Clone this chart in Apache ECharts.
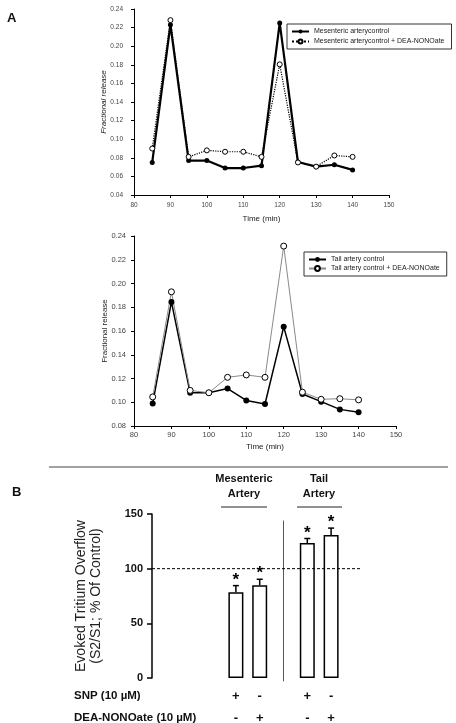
<!DOCTYPE html>
<html><head><meta charset="utf-8">
<script src="https://cdn.jsdelivr.net/npm/echarts@6/dist/echarts.min.js"></script>
<style>html,body{margin:0;padding:0;background:#fff}#c{width:456px;height:723px}</style>
</head><body><div id="c"></div>
<script>
// ---- data ----
const timePoints = [85, 90, 95, 100, 105, 110, 115, 120, 125, 130, 135, 140];
const mesControl = [0.075, 0.223, 0.077, 0.077, 0.069, 0.069, 0.0715, 0.225, 0.0755, 0.0705, 0.0725, 0.067];
const mesDea     = [0.090, 0.228, 0.081, 0.088, 0.0865, 0.0865, 0.081, 0.1805, 0.075, 0.0705, 0.0825, 0.081];
const tailControl = [0.099, 0.1845, 0.108, 0.108, 0.1115, 0.1015, 0.0985, 0.1635, 0.107, 0.1005, 0.094, 0.0915];
const tailDea     = [0.1045, 0.193, 0.110, 0.108, 0.121, 0.123, 0.121, 0.2315, 0.1085, 0.1025, 0.103, 0.102];
const mesNames = ['Mesenteric arterycontrol', 'Mesenteric arterycontrol + DEA-NONOate'];
const tailNames = ['Tail artery control', 'Tail artery control + DEA-NONOate'];

const barSlots = ['mesSNP', 'mesDEA', 'sep', 'tailSNP', 'tailDEA'];
const barMeans = [78.4, 84.8, null, 123.4, 130.7];
const barSem   = [6.1, 5.5, null, 4.2, 6.4];
const snpSigns = ['+', '-', '', '+', '-'];
const deaSigns = ['-', '+', '', '-', '+'];
const separatorSlot = 'sep';
const separatorRange = [-3, 144];
const controlLevel = 100;

const zip = (xs, ys) => xs.map((x, i) => [x, ys[i]]);
const FONT = 'Arial, "Liberation Sans", sans-serif';

function lineX(grid, labelSize, gap, margin) {
  return {
    type: 'value', gridIndex: grid, min: 80, max: 150, interval: 10,
    axisLine: { lineStyle: { color: '#000', width: 1 } },
    axisTick: { show: true, length: 3, lineStyle: { color: '#000' } },
    axisLabel: { fontSize: labelSize, color: '#444', margin: margin, fontFamily: FONT },
    splitLine: { show: false },
    name: 'Time (min)', nameLocation: 'middle', nameGap: gap, nameMoveOverlap: false,
    nameTextStyle: { fontSize: 8, color: '#222', fontFamily: FONT }
  };
}
function lineY(grid, min, labelSize, gap, margin, italic) {
  return {
    type: 'value', gridIndex: grid, min: min, max: 0.24, interval: 0.02,
    axisLine: { show: true, lineStyle: { color: '#000', width: 1 } },
    axisTick: { show: true, length: 3, lineStyle: { color: '#000' } },
    axisLabel: { fontSize: labelSize, color: '#444', margin: margin, fontFamily: FONT,
      formatter: v => v.toFixed(2) },
    splitLine: { show: false },
    name: 'Fractional release', nameLocation: 'middle', nameGap: gap, nameMoveOverlap: false,
    nameTextStyle: { fontSize: 8, color: '#222', fontFamily: FONT, fontStyle: italic ? 'italic' : 'normal' }
  };
}

const chart = echarts.init(document.getElementById('c'), null, { renderer: 'canvas' });
const option = {
  animation: false,
  backgroundColor: '#fff',
  title: [
    { text: 'A', left: 7, top: 12, padding: 0, textStyle: { fontSize: 13, fontWeight: 'bold', color: '#111', fontFamily: FONT } },
    { text: 'B', left: 12, top: 486, padding: 0, textStyle: { fontSize: 13, fontWeight: 'bold', color: '#111', fontFamily: FONT } }
  ],
  grid: [
    { left: 134, top: 9, width: 255, height: 186, outerBoundsMode: 'none' },
    { left: 134, top: 236, width: 262, height: 190, outerBoundsMode: 'none' },
    { left: 152, top: 514, width: 208, height: 164, outerBoundsMode: 'none' },
    { left: 224, top: 514, width: 119, height: 164, outerBoundsMode: 'none' }
  ],
  legend: [
    { data: mesNames, orient: 'vertical', left: 287, top: 24, itemWidth: 17, itemHeight: 5, itemGap: 3,
      padding: [4, 7, 4, 4], borderColor: '#333', borderWidth: 1,
      textStyle: { fontSize: 7, color: '#222', fontFamily: FONT } },
    { data: tailNames, orient: 'vertical', left: 304, top: 252, itemWidth: 17, itemHeight: 6, itemGap: 2,
      padding: [4, 7, 4, 4], borderColor: '#333', borderWidth: 1,
      textStyle: { fontSize: 7, color: '#222', fontFamily: FONT } }
  ],
  xAxis: [
    lineX(0, 6.5, 20, 7),
    lineX(1, 7.5, 17, 5),
    { type: 'value', gridIndex: 2, min: 0, max: 1, show: false },
    { type: 'category', gridIndex: 3, data: barSlots,
      axisLine: { show: false }, axisTick: { show: false },
      axisLabel: { interval: 0, margin: 7, fontSize: 13, fontWeight: 'bold', color: '#111', lineHeight: 22,
        fontFamily: FONT, formatter: (v, i) => snpSigns[i] + '\n' + deaSigns[i] } }
  ],
  yAxis: [
    lineY(0, 0.04, 6.5, 26, 11, true),
    lineY(1, 0.08, 7.5, 25, 8, false),
    { type: 'value', gridIndex: 2, min: 0, max: 150, interval: 50,
      axisLine: { show: true, lineStyle: { color: '#000', width: 1.5 } },
      axisTick: { show: true, length: 5, lineStyle: { color: '#000', width: 1.5 } },
      axisLabel: { fontSize: 11, fontWeight: 'bold', color: '#111', margin: 9, fontFamily: FONT },
      splitLine: { show: false },
      name: 'Evoked Tritium Overflow\n(S2/S1; % Of Control)', nameLocation: 'middle', nameGap: 48,
      nameTextStyle: { fontSize: 14, color: '#222', lineHeight: 15, fontFamily: FONT } },
    { type: 'value', gridIndex: 3, min: 0, max: 150, show: false }
  ],
  series: [
    { type: 'line', name: mesNames[0], xAxisIndex: 0, yAxisIndex: 0, data: zip(timePoints, mesControl),
      symbol: 'circle', symbolSize: 5, lineStyle: { color: '#000', width: 2.2 },
      itemStyle: { color: '#000' } },
    { type: 'line', name: mesNames[1], xAxisIndex: 0, yAxisIndex: 0, data: zip(timePoints, mesDea),
      symbol: 'circle', symbolSize: 5, lineStyle: { color: '#000', width: 1.2, type: 'dotted' },
      itemStyle: { color: '#fff', borderColor: '#000', borderWidth: 1 } },
    { type: 'line', name: tailNames[0], xAxisIndex: 1, yAxisIndex: 1, data: zip(timePoints, tailControl),
      symbol: 'circle', symbolSize: 6, lineStyle: { color: '#000', width: 1.5 },
      itemStyle: { color: '#000' } },
    { type: 'line', name: tailNames[1], xAxisIndex: 1, yAxisIndex: 1, data: zip(timePoints, tailDea),
      symbol: 'circle', symbolSize: 6, lineStyle: { color: '#8a8a8a', width: 1 },
      itemStyle: { color: '#fff', borderColor: '#000', borderWidth: 1 } },
    { type: 'line', xAxisIndex: 2, yAxisIndex: 2, data: [[0, controlLevel], [1, controlLevel]],
      symbol: 'none', silent: true, lineStyle: { color: '#000', width: 1, type: [3, 2] } },
    { type: 'bar', xAxisIndex: 3, yAxisIndex: 3, data: barMeans, barWidth: 15,
      itemStyle: { color: '#fff', borderColor: '#000', borderWidth: 1.5 } },
    { type: 'custom', xAxisIndex: 3, yAxisIndex: 3, clip: false, silent: true,
      data: [[barSlots.indexOf(separatorSlot), separatorRange[0], separatorRange[1]]],
      encode: { x: 0, y: 1 },
      renderItem: function (params, api) {
        const a = api.coord([api.value(0), api.value(1)]);
        const b = api.coord([api.value(0), api.value(2)]);
        return { type: 'line', shape: { x1: a[0], y1: a[1], x2: b[0], y2: b[1] },
          style: { stroke: '#555', lineWidth: 1 } };
      } },
    { type: 'custom', xAxisIndex: 3, yAxisIndex: 3, clip: false,
      data: barSlots.map((s, i) => [i, barMeans[i], barSem[i]]).filter(d => d[1] != null),
      encode: { x: 0, y: 1 },
      renderItem: function (params, api) {
        const i = api.value(0), m = api.value(1), s = api.value(2);
        const base = api.coord([i, m]);
        const top = api.coord([i, m + s]);
        return { type: 'group', children: [
          { type: 'line', shape: { x1: base[0], y1: base[1], x2: top[0], y2: top[1] },
            style: { stroke: '#000', lineWidth: 1.5 } },
          { type: 'line', shape: { x1: top[0] - 3, y1: top[1], x2: top[0] + 3, y2: top[1] },
            style: { stroke: '#000', lineWidth: 1.5 } },
          { type: 'text', x: top[0], y: top[1] + 3,
            style: { text: '*', font: 'bold 17px ' + FONT, fill: '#000', align: 'center', verticalAlign: 'bottom' } }
        ] };
      } }
  ],
  graphic: [
    { type: 'line', shape: { x1: 49, y1: 467, x2: 448, y2: 467 }, style: { stroke: '#444', lineWidth: 1 } },
    { type: 'text', x: 244, y: 479, style: { text: 'Mesenteric', font: 'bold 11px ' + FONT, fill: '#111', align: 'center', verticalAlign: 'middle' } },
    { type: 'text', x: 244, y: 494, style: { text: 'Artery', font: 'bold 11px ' + FONT, fill: '#111', align: 'center', verticalAlign: 'middle' } },
    { type: 'line', shape: { x1: 221, y1: 507, x2: 267, y2: 507 }, style: { stroke: '#222', lineWidth: 1 } },
    { type: 'text', x: 319, y: 479, style: { text: 'Tail', font: 'bold 11px ' + FONT, fill: '#111', align: 'center', verticalAlign: 'middle' } },
    { type: 'text', x: 319, y: 494, style: { text: 'Artery', font: 'bold 11px ' + FONT, fill: '#111', align: 'center', verticalAlign: 'middle' } },
    { type: 'line', shape: { x1: 297, y1: 507, x2: 342, y2: 507 }, style: { stroke: '#222', lineWidth: 1 } },
    { type: 'text', x: 74, y: 696, style: { text: 'SNP (10 µM)', font: 'bold 11.5px ' + FONT, fill: '#111', align: 'left', verticalAlign: 'middle' } },
    { type: 'text', x: 74, y: 718, style: { text: 'DEA-NONOate (10 µM)', font: 'bold 11.5px ' + FONT, fill: '#111', align: 'left', verticalAlign: 'middle' } }
  ]
};
chart.setOption(option);
</script>
</body></html>
